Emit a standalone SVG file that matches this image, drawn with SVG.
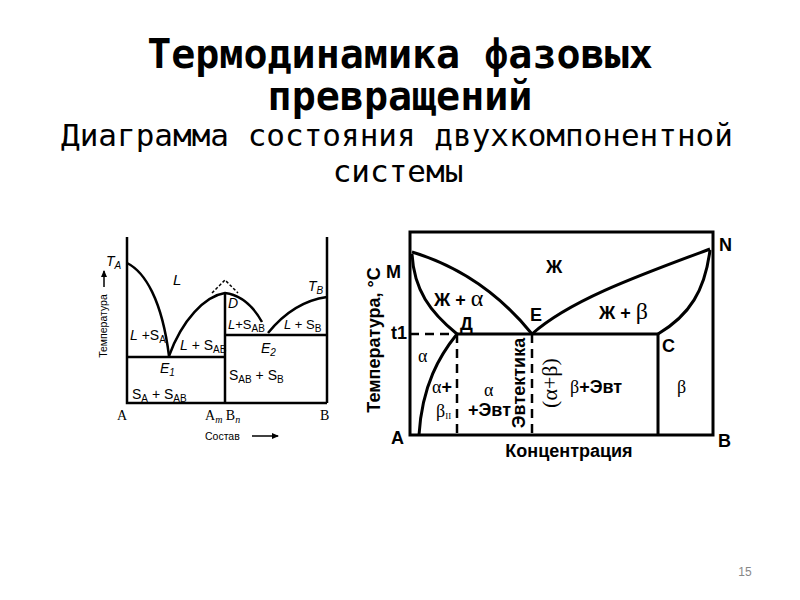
<svg xmlns="http://www.w3.org/2000/svg" width="800" height="600" viewBox="0 0 800 600">
<defs>
<style>
.t1{font-family:"DejaVu Sans Mono","Liberation Mono",monospace;font-weight:bold;font-size:40px;fill:#000;text-anchor:middle}
.t2{font-family:"DejaVu Sans Mono","Liberation Mono",monospace;font-size:31px;fill:#000;text-anchor:middle}
.ln{fill:none;stroke:#000;stroke-width:3}
.lnl{fill:none;stroke:#000;stroke-width:2.5}
.ds{fill:none;stroke:#000;stroke-width:2.5;stroke-dasharray:9,6}
.rb{font-family:"Liberation Sans",Arial,sans-serif;font-weight:bold;font-size:18px;fill:#000}
.gr{font-family:"Liberation Serif","Times New Roman",serif;fill:#000}
.ll{font-family:"Liberation Sans",Arial,sans-serif;font-size:13px;fill:#000}
.li{font-style:italic}
</style>
<marker id="ar" markerWidth="8" markerHeight="8" refX="6" refY="4" orient="auto" markerUnits="userSpaceOnUse">
<path d="M0,1 L7,4 L0,7 Z" fill="#000"/>
</marker>
</defs>
<rect width="800" height="600" fill="#fff"/>

<g id="title">
<text class="t1" x="400" y="68">Термодинамика фазовых</text>
<text class="t1" x="400" y="110">превращений</text>
<text class="t2" x="397" y="146">Диаграмма состояния двухкомпонентной</text>
<text class="t2" x="398" y="182">системы</text>
</g>

<g id="left-diagram">
<g id="left-lines">
<path class="lnl" d="M127,237 L127,403 L327,403 M327,237 L327,403"/>
<path class="lnl" d="M225,293 L225,403"/>
<path class="lnl" d="M127,357 L225,357 M225,335 L327,335"/>
<path class="lnl" d="M127,263 C145,272 162,300 169,356"/>
<path class="lnl" d="M169,356 C182,320 205,296 225,293 C240,295 252,304 262,322"/>
<path class="lnl" d="M268,333 C285,312 305,300 327,297"/>
<path fill="none" stroke="#000" stroke-width="1.5" stroke-dasharray="3,2" d="M212,293 L225,280 L238,293"/>
</g>
<g id="left-labels" class="ll">
<text x="106" y="266" font-size="14" class="li">T<tspan font-size="10" dy="3">A</tspan></text>
<text x="173" y="285" font-size="15" class="li">L</text>
<text x="308" y="291" font-size="14" class="li">T<tspan font-size="10" dy="3">B</tspan></text>
<text x="228" y="308" font-size="14" class="li">D</text>
<text x="130" y="340" font-size="14"><tspan class="li">L</tspan> +S<tspan font-size="10" dy="3">A</tspan></text>
<text x="180" y="350" font-size="14"><tspan class="li">L</tspan> + S<tspan font-size="10" dy="3">AB</tspan></text>
<text x="228" y="329" font-size="13"><tspan class="li">L</tspan>+S<tspan font-size="10" dy="3">AB</tspan></text>
<text x="284" y="329" font-size="13"><tspan class="li">L</tspan> + S<tspan font-size="10" dy="3">B</tspan></text>
<text x="261" y="353" font-size="14" class="li">E<tspan font-size="10" dy="3">2</tspan></text>
<text x="160" y="373" font-size="14" class="li">E<tspan font-size="10" dy="3">1</tspan></text>
<text x="132" y="399" font-size="14">S<tspan font-size="10" dy="3">A</tspan><tspan dy="-3"> + S</tspan><tspan font-size="10" dy="3">AB</tspan></text>
<text x="229" y="380" font-size="14">S<tspan font-size="10" dy="3">AB</tspan><tspan dy="-3"> + S</tspan><tspan font-size="10" dy="3">B</tspan></text>
<text x="117" y="420" font-size="14" font-family="Liberation Serif,serif">A</text>
<text x="205" y="420" font-size="14" font-family="Liberation Serif,serif">A<tspan font-size="10" dy="3" class="li">m</tspan><tspan dy="-3"> B</tspan><tspan font-size="10" dy="3" class="li">n</tspan></text>
<text x="320" y="420" font-size="14" font-family="Liberation Serif,serif">B</text>
<text x="205" y="440" font-size="10.5">Состав</text>
<text x="0" y="0" font-size="10.5" text-anchor="middle" transform="translate(107,326) rotate(-90)">Температура</text>
</g>
<g id="left-arrows">
<line x1="252" y1="436" x2="278" y2="436" stroke="#000" stroke-width="1.5" marker-end="url(#ar)"/>
<line x1="104" y1="287" x2="104" y2="271" stroke="#000" stroke-width="1.5" marker-end="url(#ar)"/>
</g>
</g>

<g id="right-diagram">
<g id="right-lines">
<rect class="ln" x="410" y="232" width="303" height="203"/>
<path class="ln" d="M412,252 C445,262 490,282 532,334"/>
<path class="ln" d="M412,254 C414,290 430,312 457,334"/>
<path class="ln" d="M532,334 C570,300 640,275 710,249"/>
<path class="ln" d="M710,250 C705,290 690,315 658,334"/>
<path class="ln" d="M457,334 L658,334 L658,435"/>
<path class="ds" d="M410,334 L457,334"/>
<path class="ln" d="M457,334 C440,355 422,385 419,435"/>
<path class="ds" d="M457,334 L457,435 M532,334 L532,435"/>
</g>
<g id="right-labels">
<text class="rb" x="386" y="278">M</text>
<text class="rb" x="719" y="251">N</text>
<text class="rb" x="546" y="273">Ж</text>
<text class="rb" x="434" y="306" font-size="17">Ж + <tspan class="gr" font-size="24" font-weight="normal">α</tspan></text>
<text class="rb" x="530" y="321">E</text>
<text class="rb" x="460" y="330">Д</text>
<text class="rb" x="599" y="319" font-size="17">Ж + <tspan class="gr" font-size="24" font-weight="normal">β</tspan></text>
<text class="rb" x="391" y="339">t1</text>
<text class="rb" x="662" y="352">C</text>
<text class="rb" x="391" y="444">A</text>
<text class="rb" x="718" y="447">B</text>
<text class="rb" x="569" y="457" text-anchor="middle" font-size="18.5">Концентрация</text>
<text class="rb" x="0" y="0" font-size="18" text-anchor="middle" transform="translate(380,340) rotate(-90)">Температура, °C</text>
<text class="rb" x="0" y="0" font-size="18" text-anchor="middle" transform="translate(525,383) rotate(-90)">Эвтектика</text>
<text class="gr" x="0" y="0" font-size="22" text-anchor="middle" transform="translate(557,383) rotate(-90)">(α+β)</text>
<text class="gr" x="418" y="362" font-size="18">α</text>
<text x="432" y="393"><tspan class="gr" font-size="18">α</tspan><tspan class="rb" font-size="15">+</tspan></text>
<text class="gr" x="436" y="417" font-size="18">β<tspan font-size="9" dy="2">II</tspan></text>
<text class="gr" x="484" y="396" font-size="18">α</text>
<text class="rb" x="468" y="416" font-size="14">+Эвт</text>
<text x="570" y="393"><tspan class="gr" font-size="18">β</tspan><tspan class="rb" font-size="14">+Эвт</tspan></text>
<text class="gr" x="677" y="393" font-size="18">β</text>
</g>
</g>

<g id="page-number">
<text x="745" y="576" font-family="Liberation Sans,Arial,sans-serif" font-size="12" fill="#888" text-anchor="middle">15</text>
</g>
</svg>
